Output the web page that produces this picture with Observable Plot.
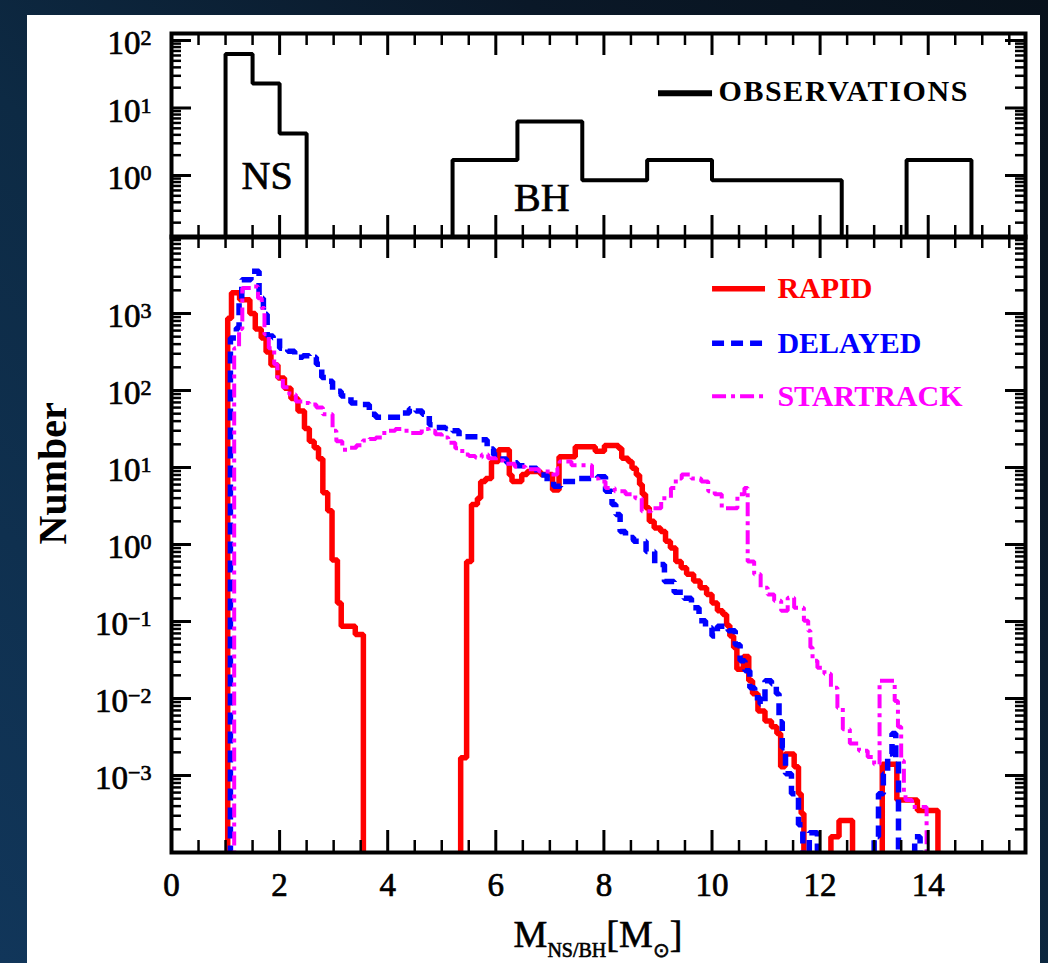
<!DOCTYPE html>
<html>
<head>
<meta charset="utf-8">
<script src="https://cdn.jsdelivr.net/npm/d3@7"></script>
<script src="https://cdn.jsdelivr.net/npm/@observablehq/plot@0.6"></script>
<style>
  html, body { margin: 0; padding: 0; }
  body { width: 1048px; height: 963px; overflow: hidden; position: relative;
         background: linear-gradient(to top right, #11365a 0%, #0d2a44 45%, #0a1828 75%, #08121c 100%); }
  #panel { position: absolute; left: 27px; top: 15px; width: 1013px; height: 948px; background: #fff; }
  #stage { position: absolute; left: 0; top: 0; width: 1048px; height: 963px; }
  #stage svg { position: absolute; left: 0; top: 0; overflow: visible; max-width: none; }
  #stage g[aria-label$="tick label"] text, #stage .heavy text { stroke: #000; stroke-width: 0.7px; }
  #xtitle { position: absolute; left: 171px; width: 854px; top: 916px; text-align: center;
            font-family: "Liberation Serif", serif; font-size: 38px; line-height: 36px; color: #000; white-space: nowrap;
            -webkit-text-stroke: 0.6px #000; }
  #xtitle .sub { font-size: 20px; position: relative; top: 10px; }
</style>
</head>
<body>
<div id="panel"></div>
<div id="stage"></div>
<div id="xtitle">M<span class="sub">NS/BH</span>[M<span class="sub">⊙</span>]</div>
<script>
// ---------------- data ----------------
// Observed histogram (top panel): left bin edges and counts (0 = empty bin / end)
const obsMass  = [1.0, 1.5, 2.0, 2.5, 5.2, 6.4, 7.6, 8.8, 10.0, 11.2, 12.4, 13.6, 14.8];
const obsCount = [63, 23, 4.2, 0, 1.7, 6.3, 0.85, 1.7, 0.85, 0.85, 0, 1.7, 0];
const obsLabelText  = ["NS", "BH"];
const obsLabelMass  = [1.77, 6.85];
const obsLabelCount = [0.97, 0.464];

// Model histograms (bottom panel): step start masses and bin values (0 = empty / end)
const rapidMass = [1.04,1.11,1.26,1.45,1.55,1.66,1.75,1.84,1.97,2.09,2.21,2.34,2.46,2.55,2.64,2.72,2.80,2.89,2.97,3.07,3.14,3.40,3.55,
  5.35,5.46,5.55,5.66,5.72,5.81,5.92,6.05,6.25,6.30,6.48,6.58,6.83,7.05,7.17,7.47,7.84,8.01,8.27,8.33,8.45,8.52,8.60,8.66,8.71,8.77,8.84,8.93,9.05,9.14,
  9.23,9.33,9.43,9.53,9.66,9.78,9.90,10.00,10.10,10.20,10.27,10.33,10.40,10.46,10.58,10.68,10.75,10.85,10.98,11.10,11.20,11.27,11.35,11.52,11.60,11.65,11.70,
  12.20,12.35,12.60,
  13.15,13.42,13.80,14.18];
const rapidCount = [870,1860,1510,1000,630,480,316,214,145,107,79,54,32,22,18,13,4.7,2.75,0.63,0.174,0.087,0.068,0,
  0.0017,0.60,3.3,4.0,6.6,7.2,12,17,8.0,6.6,8.1,8.9,8.1,5.1,13.8,18.6,16.2,19.3,17.8,13.2,12,9.8,8.0,6.0,4.5,3.0,2.0,1.64,1.48,1.1,
  0.90,0.60,0.50,0.41,0.335,0.275,0.224,0.174,0.138,0.123,0.089,0.065,0.046,0.024,0.035,0.017,0.0115,0.0069,0.0051,0.0043,0.0035,0.0013,0.0019,0.0013,0.00058,0.00032,0,
  0.00016,0.00026,0,
  0.0014,0.00048,0.00035,0];

const delayedMass = [1.09,1.20,1.25,1.30,1.47,1.62,1.70,1.77,1.88,2.00,2.15,2.28,2.43,2.55,2.68,2.78,2.87,2.98,3.14,3.32,
  3.48,3.66,3.78,4.28,4.40,4.52,4.64,4.77,4.89,5.07,5.20,5.32,5.70,5.84,5.96,6.07,6.20,6.40,6.58,6.76,
  6.95,7.07,7.20,7.52,7.88,8.03,8.15,8.22,8.30,8.40,8.55,8.78,8.94,9.12,9.30,9.48,9.62,9.76,9.88,10.00,
  10.10,10.30,10.43,10.52,10.61,10.70,10.79,10.89,10.98,11.10,11.19,11.24,11.30,11.36,11.47,11.60,11.68,
  11.80,11.95,
  13.00,13.08,13.17,13.25,13.33,13.40,13.45,
  13.75,13.85];
const delayedCount = [480,650,1450,2750,3550,1580,980,510,480,355,324,270,282,270,219,148,132,98,85,69,
  66,49,45,51,58,54,49,36,33,32,30,25,23,17.4,14.5,12.9,11.5,10.5,9.8,8.0,
  6.6,5.7,6.6,7.2,7.6,4.9,3.3,2.45,1.48,1.23,1.1,0.81,0.55,0.33,0.24,0.20,0.151,0.102,0.083,0.065,
  0.087,0.076,0.050,0.031,0.023,0.0138,0.0102,0.0085,0.017,0.0155,0.0115,0.005,0.0023,0.00105,0.00058,0.00023,0,
  0.00018,0,
  0.00016,0.00058,0.00105,0.0019,0.0035,0.00155,0,
  0.00016,0];

const startrackMass = [1.16,1.25,1.31,1.52,1.60,1.67,1.72,1.80,1.90,1.96,2.06,2.18,2.30,2.43,2.55,2.68,2.80,2.98,3.05,3.16,
  3.30,3.42,3.54,3.66,3.78,3.90,4.02,4.14,4.28,4.40,4.63,4.76,4.88,5.00,5.12,5.25,5.38,5.50,5.62,5.74,
  5.86,6.00,6.15,6.35,6.55,6.80,7.00,7.14,7.18,7.40,7.78,7.90,8.03,8.20,8.40,8.58,8.70,8.88,9.06,9.24,
  9.33,9.44,9.62,9.80,9.93,10.05,10.18,10.47,10.60,10.66,10.78,10.90,11.03,11.15,11.28,11.40,11.52,11.70,11.78,11.82,
  11.86,11.95,12.08,12.20,12.32,12.42,12.55,12.72,12.88,13.00,13.10,13.38,13.44,13.50,13.55,13.58,13.70,13.97];
const startrackCount = [355,630,2140,2240,1580,1175,537,355,219,148,110,89,72,69,66,60,49,30,22,17,
  18,19.5,22.4,23.4,24.5,28,30,31.6,30,28,31.6,30,27,24.5,21,17.8,14.8,14.1,13.5,14.8,
  13.2,12.3,11.2,10.2,9.5,8.9,8.1,9.8,12,10.7,7.2,6.6,5.4,4.9,4.5,4.0,2.7,2.95,4.0,5.4,
  7.2,8.1,7.2,6.6,4.9,4.5,2.95,4.5,5.4,0.60,0.41,0.275,0.224,0.186,0.138,0.204,0.151,0.102,0.076,0.046,
  0.031,0.025,0.021,0.0138,0.0076,0.004,0.0026,0.0021,0.00174,0.0014,0.017,0.0093,0.0043,0.00155,0.00058,0.00048,0.00039,0];

const seriesNames  = ["RAPID", "DELAYED", "STARTRACK"];
const seriesColors = ["#ff0000", "#0000ff", "#ff00ff"];
const seriesDash   = [null, "12,7", "14,5,4,5"];
const seriesWidth  = [5.5, 5.5, 4];
const legendSampleMass = [10.01, 10.99];
const legendTextMass = 11.21;
const legendLevel = [2100, 410, 84];
const obsLegendSampleMass = [9.01, 10.01];
const obsLegendTextMass = 10.12;
const obsLegendLevel = 16.6;

const xTickLabels = [0, 2, 4, 6, 8, 10, 12, 14];
const yLabelsTop = [1, 10, 100];
const yLabelsBottom = [1e-3, 1e-2, 1e-1, 1, 10, 100, 1000];

// ---------------- helpers ----------------
const FONT = "'Liberation Serif', 'Times New Roman', serif";
const TINY = 1e-9;
function steps(mass, count) {
  const pts = [{x: mass[0], y: TINY}];
  mass.forEach((m, i) => pts.push({x: m, y: count[i] > 0 ? count[i] : TINY}));
  return pts;
}
function logTicks(lo, hi, minor) {
  const out = [];
  for (let d = -6; d <= 6; d++) {
    for (let k = (minor ? 2 : 1); k <= (minor ? 9 : 1); k++) {
      const v = k * Math.pow(10, d);
      if (v > lo * 1.0001 && v < hi * 0.9999) out.push(v);
    }
  }
  return out;
}
const xMajor = d3.range(2, 15.8, 2);
const xMinor = d3.range(0.5, 15.8, 0.5).filter(v => v % 2 !== 0);

function frameTicks(yDomain, plotW, plotH) {
  const yMaj = logTicks(yDomain[0], yDomain[1], false);
  const yMin = logTicks(yDomain[0], yDomain[1], true);
  const M = {stroke: "black", strokeWidth: 3};
  const m = {stroke: "black", strokeWidth: 2.5};
  return [
    Plot.tickX(xMajor, {x: d => d, insetTop: plotH - 22, ...M}),
    Plot.tickX(xMajor, {x: d => d, insetBottom: plotH - 22, ...M}),
    Plot.tickX(xMinor, {x: d => d, insetTop: plotH - 12, ...m}),
    Plot.tickX(xMinor, {x: d => d, insetBottom: plotH - 12, ...m}),
    Plot.tickY(yMaj, {y: d => d, insetRight: plotW - 20, ...M}),
    Plot.tickY(yMaj, {y: d => d, insetLeft: plotW - 20, ...M}),
    Plot.tickY(yMin, {y: d => d, insetRight: plotW - 10, ...m}),
    Plot.tickY(yMin, {y: d => d, insetLeft: plotW - 10, ...m})
  ];
}
function superscript(svg) {
  const ns = "http://www.w3.org/2000/svg";
  svg.querySelectorAll('g[aria-label="y-axis tick label"] text').forEach(t => {
    const e = t.textContent;
    t.textContent = "";
    const a = document.createElementNS(ns, "tspan"); a.textContent = "10";
    const b = document.createElementNS(ns, "tspan"); b.textContent = e;
    b.setAttribute("font-size", "22"); b.setAttribute("dy", "-9");
    t.append(a, b);
  });
}
function styleWord(svg, word, attrs) {
  svg.querySelectorAll("text").forEach(t => {
    if (t.textContent === word) for (const [k, v] of Object.entries(attrs)) t.setAttribute(k, v);
  });
}
const expFormat = d => String(Math.round(Math.log10(d))).replace("-", "\u2212");

const W = 1048, ML = 171, MR = 23;
const plotW = W - ML - MR;

// ---------------- top panel ----------------
const topDomain = [0.1205, 127];
const topH = 240, topMT = 33, topMB = 3;
const topPlot = Plot.plot({
  width: W, height: topH, marginLeft: ML, marginRight: MR, marginTop: topMT, marginBottom: topMB,
  style: {fontFamily: FONT, fontSize: "33px", background: "transparent", overflow: "visible", color: "black"},
  x: {domain: [0, 15.8], axis: null, label: null},
  y: {type: "log", domain: topDomain, label: null},
  marks: [
    Plot.line(steps(obsMass, obsCount), {x: "x", y: "y", curve: "step-after", stroke: "black", strokeWidth: 4,
      strokeLinejoin: "miter", strokeLinecap: "butt", clip: true}),
    Plot.text(obsLabelText, {x: (d, i) => obsLabelMass[i], y: (d, i) => obsLabelCount[i], text: d => d,
      fontSize: 40, fill: "black"}),
    Plot.ruleY([obsLegendLevel], {y: d => d, x1: obsLegendSampleMass[0], x2: obsLegendSampleMass[1], stroke: "black", strokeWidth: 6}),
    Plot.text(["OBSERVATIONS"], {x: obsLegendTextMass, y: obsLegendLevel, text: d => d, textAnchor: "start", dy: -2,
      fontSize: 30, fontWeight: "bold", fill: "black"}),
    ...frameTicks(topDomain, plotW, topH - topMT - topMB),
    Plot.axisY({ticks: yLabelsTop, tickSize: 0, tickPadding: 20, tickFormat: expFormat, fontSize: 33, dy: 3, label: null}),
    Plot.frame({stroke: "black", strokeWidth: 4})
  ]
});
superscript(topPlot);
styleWord(topPlot, "OBSERVATIONS", {"letter-spacing": "1.6"});
styleWord(topPlot, "NS", {"stroke": "#000", "stroke-width": "0.7"});
styleWord(topPlot, "BH", {"stroke": "#000", "stroke-width": "0.7"});

// ---------------- bottom panel ----------------
const botDomain = [1e-4, 1e4];
const botH = 963, botMT = 236, botMB = 111;
const series = [
  steps(rapidMass, rapidCount),
  steps(delayedMass, delayedCount),
  steps(startrackMass, startrackCount)
];
const botPlot = Plot.plot({
  width: W, height: botH, marginLeft: ML, marginRight: MR, marginTop: botMT, marginBottom: botMB,
  style: {fontFamily: FONT, fontSize: "33px", background: "transparent", overflow: "visible", color: "black"},
  x: {domain: [0, 15.8], label: null},
  y: {type: "log", domain: botDomain, label: null},
  marks: [
    ...series.map((s, i) => Plot.line(s, {x: "x", y: "y", curve: "step-after", stroke: seriesColors[i],
      strokeWidth: seriesWidth[i], strokeDasharray: seriesDash[i], strokeLinejoin: "miter", strokeLinecap: "butt", clip: true})),
    ...seriesNames.map((name, i) => Plot.ruleY([legendLevel[i]], {y: d => d, x1: legendSampleMass[0], x2: legendSampleMass[1],
      stroke: seriesColors[i], strokeWidth: seriesWidth[i], strokeDasharray: seriesDash[i]})),
    Plot.text(seriesNames, {x: legendTextMass, y: (d, i) => legendLevel[i], text: d => d, textAnchor: "start",
      fill: (d, i) => seriesColors[i], fontSize: 30, fontWeight: "bold"}),
    ...frameTicks(botDomain, plotW, botH - botMT - botMB),
    Plot.axisX({ticks: xTickLabels, tickSize: 0, tickPadding: 20, fontSize: 33, label: null, tickFormat: d => String(d)}),
    Plot.axisY({ticks: yLabelsBottom, tickSize: 0, tickPadding: 20, tickFormat: expFormat, fontSize: 33, dy: 3, label: null}),
    Plot.text(["Number"], {frameAnchor: "left", dx: -118, rotate: -90, text: d => d, fontSize: 40, fontWeight: "bold", fill: "black"}),
    Plot.frame({stroke: "black", strokeWidth: 4})
  ]
});
superscript(botPlot);

const stage = document.getElementById("stage");
stage.append(topPlot, botPlot);
</script>
</body>
</html>
